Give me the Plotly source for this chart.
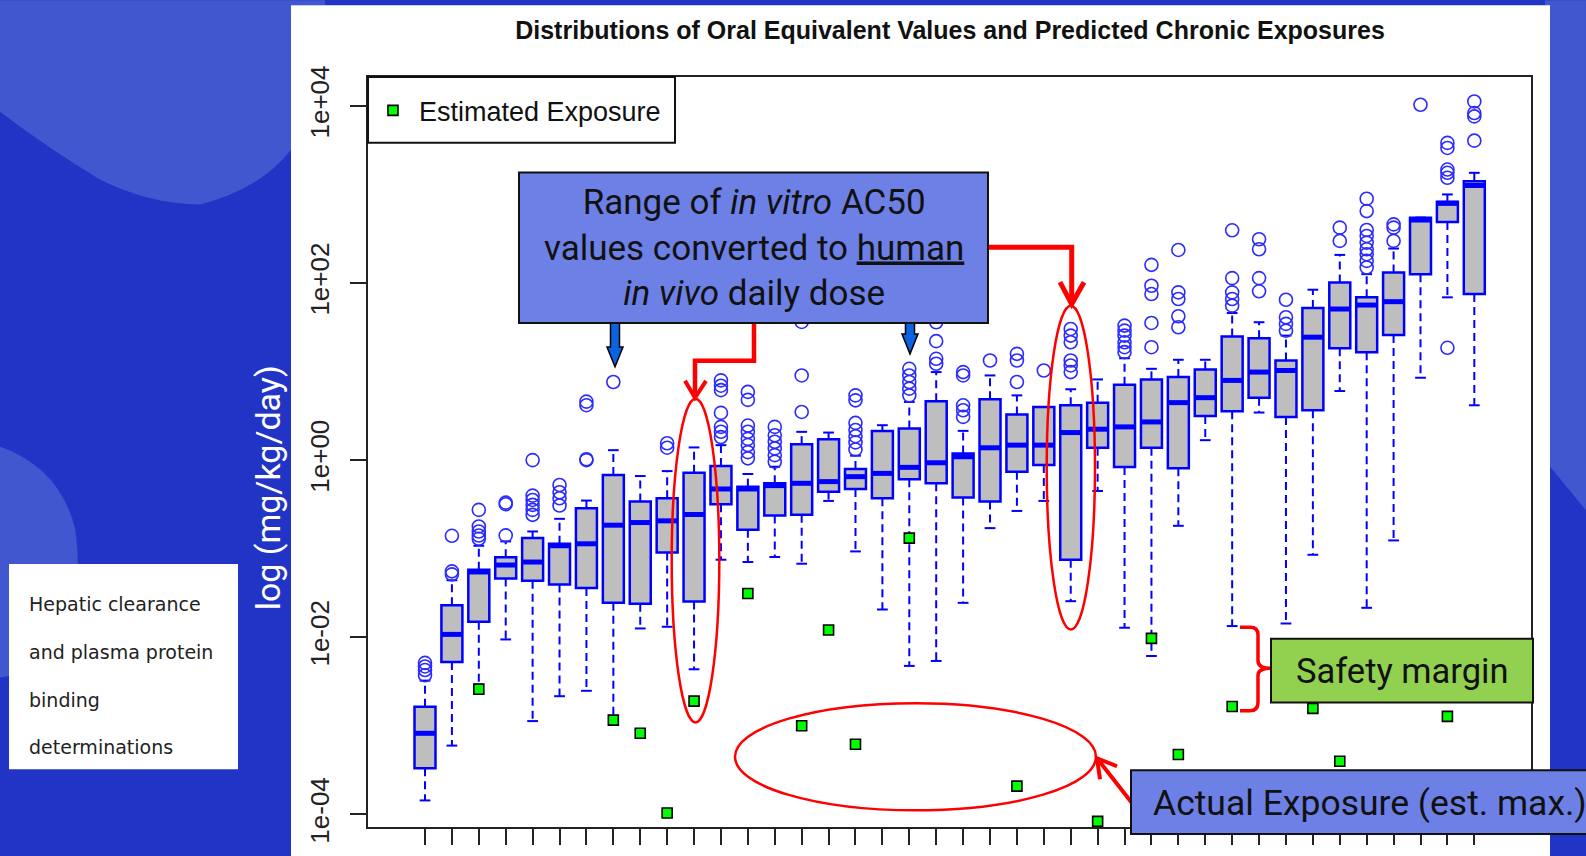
import plotly.graph_objects as go

# ---------------- data (log10 of mg/kg/day) ----------------
positions = list(range(1, 41))
lo_log = [-3.843, -3.224, -2.531, -2.025, -2.947, -2.666, -2.605, -2.905, -1.901, -1.882,
          -2.362, -1.125, -1.151, -1.094, -1.170, -0.461, -1.031, -1.687, -2.324, -2.268,
          -1.612, -0.768, -0.574, -0.461, -1.593, -0.349, -1.893, -2.212, -0.742, 0.225,
          -1.874, 0.537, -1.845, -1.069, 0.780, -1.668, -0.907, 0.930, 1.838, 0.619]
q1_log = [-3.479, -2.279, -1.826, -1.338, -1.361, -1.406, -1.443, -1.612, -1.623, -1.042,
          -1.597, -0.498, -0.787, -0.626, -0.618, -0.356, -0.326, -0.431, -0.217, -0.262,
          -0.423, -0.468, -0.131, -0.056, -1.125, 0.139, -0.078, 0.139, -0.093, 0.499,
          0.551, 0.705, 0.488, 0.562, 1.264, 1.219, 1.414, 2.100, 2.688, 1.875]
med_log = [-3.085, -1.968, -1.263, -1.185, -1.151, -0.967, -0.945, -0.735, -0.705, -0.686,
           -0.614, -0.326, -0.326, -0.288, -0.262, -0.243, -0.187, -0.150, -0.082, -0.030,
           0.038, 0.139, 0.169, 0.169, 0.311, 0.349, 0.375, 0.431, 0.649, 0.705,
           0.900, 0.994, 1.012, 1.388, 1.706, 1.751, 1.789, 2.711, 2.899, 3.101]
q3_log = [-2.785, -1.638, -1.237, -1.098, -0.881, -0.945, -0.543, -0.169, -0.468, -0.431,
          -0.142, -0.067, -0.300, -0.262, 0.180, 0.236, -0.101, 0.330, 0.357, 0.664,
          0.075, 0.686, 0.514, 0.600, 0.619, 0.649, 0.851, 0.911, 0.938, 1.024,
          1.395, 1.377, 1.125, 1.718, 2.006, 1.838, 2.119, 2.738, 2.918, 3.150]
hi_log = [-2.490, -1.357, -0.967, -0.918, -0.806, -0.663, -0.457, 0.112, -0.180, -0.124,
          0.143, 0.169, -0.157, -0.075, 0.319, 0.311, 0.050, 0.394, 0.657, 0.994,
          0.330, 0.956, 0.731, 0.600, 0.800, 0.911, 1.150, 1.031, 1.133, 1.133,
          1.661, 1.557, 1.406, 1.924, 2.317, 2.100, 2.389, 2.738, 3.000, 3.244]
outliers_log = [
    [-2.29, -2.33, -2.37, -2.43],
    [-1.256, -1.29, -0.855],
    [-0.888, -0.851, -0.806, -0.749, -0.562],
    [-0.85, -0.498, -0.48],
    [-0.618, -0.562, -0.506, -0.45, -0.401, 0.0],
    [-0.513, -0.431, -0.363, -0.281],
    [0.0, 0.01, 0.62, 0.66],
    [0.882],
    [],
    [0.14, 0.19],
    [],
    [0.26, 0.32, 0.375, 0.533, 0.79, 0.84, 0.9],
    [0.02, 0.09, 0.17, 0.24, 0.32, 0.39, 0.68, 0.77],
    [-0.018, 0.056, 0.132, 0.207, 0.281, 0.375],
    [0.544, 0.956, 1.56],
    [],
    [0.12, 0.2, 0.27, 0.34, 0.42, 0.675, 0.731],
    [],
    [0.731, 0.807, 0.882, 0.956, 1.031],
    [1.088, 1.144, 1.343, 1.557],
    [0.488, 0.563, 0.619, 0.956, 0.994],
    [1.125],
    [0.882, 1.125, 1.2],
    [1.012],
    [0.994, 1.069, 1.125, 1.331, 1.406, 1.481],
    [],
    [1.219, 1.275, 1.331, 1.406, 1.462, 1.519],
    [1.275, 1.549, 1.875, 1.969, 2.205],
    [1.5, 1.624, 1.819, 1.894, 2.373],
    [],
    [1.744, 1.819, 1.894, 2.055, 2.595],
    [1.906, 2.055, 2.381, 2.494],
    [1.462, 1.538, 1.613, 1.811],
    [],
    [2.475, 2.625],
    [2.175, 2.25, 2.325, 2.381, 2.456, 2.531, 2.599, 2.812, 2.952],
    [2.475, 2.625, 2.662],
    [4.013],
    [1.268, 3.188, 3.244, 3.281, 3.525, 3.582],
    [3.607, 3.881, 3.919, 4.05],
]
exposure_pos = [3, 8, 9, 10, 11, 13, 15, 16, 17, 19, 23, 26, 28, 29, 31, 34, 35, 39]
exposure_log = [-2.587, -2.936, -3.085, -3.985, -2.722, -1.507, -3.0, -1.919, -3.209, -0.881,
                -3.682, -4.079, -2.013, -3.325, -2.782, -2.804, -3.4, -2.894]
ytick_vals = [1e-4, 1e-2, 1, 1e2, 1e4]
ytick_text = ["1e-04", "1e-02", "1e+00", "1e+02", "1e+04"]

# ---------------- geometry helpers (pixel -> paper) ----------------
W, H = 1586, 856
L, R, T, B = 368, 1531, 77, 830


def X(px):
    return (px - L) / (R - L)


def Y(py):
    return (B - py) / (B - T)


def path(cmds):
    out = []
    for c in cmds:
        op = c[0]
        nums = c[1:]
        pts = []
        for k in range(0, len(nums), 2):
            pts.append(f"{X(nums[k]):.5f},{Y(nums[k+1]):.5f}")
        out.append(op + " " + " ".join(pts))
    return " ".join(out)


def p10(v):
    return 10 ** v


BLUE = "#0000FF"
DARK_BG = "#2234C5"
LIGHT_BG = "#4157CF"
CALLOUT = "#6D80E6"

fig = go.Figure()

# boxes
fig.add_trace(go.Box(
    x=positions,
    q1=[p10(v) for v in q1_log], median=[p10(v) for v in med_log], q3=[p10(v) for v in q3_log],
    lowerfence=[p10(v) for v in q1_log], upperfence=[p10(v) for v in q3_log],
    width=0.78, fillcolor="#BEBEBE", line=dict(color=BLUE, width=2.5),
    boxpoints=False, showlegend=False, hoverinfo="skip"))

# dashed whiskers, caps, thick medians
wx, wy = [], []
cx, cy = [], []
mx, my = [], []
for i, lo, q1, med, q3, hi in zip(positions, lo_log, q1_log, med_log, q3_log, hi_log):
    if lo < q1:
        wx += [i, i, None]
        wy += [p10(q1), p10(lo), None]
    if hi > q3:
        wx += [i, i, None]
        wy += [p10(q3), p10(hi), None]
    cx += [i - 0.2, i + 0.2, None, i - 0.2, i + 0.2, None]
    cy += [p10(lo), p10(lo), None, p10(hi), p10(hi), None]
    mx += [i - 0.39, i + 0.39, None]
    my += [p10(med), p10(med), None]

fig.add_trace(go.Scatter(x=wx, y=wy, mode="lines", line=dict(color=BLUE, width=2, dash="8px,5px"),
                         showlegend=False, hoverinfo="skip"))
fig.add_trace(go.Scatter(x=cx, y=cy, mode="lines", line=dict(color=BLUE, width=2),
                         showlegend=False, hoverinfo="skip"))
fig.add_trace(go.Scatter(x=mx, y=my, mode="lines", line=dict(color=BLUE, width=5),
                         showlegend=False, hoverinfo="skip"))

ox, oy = [], []
for i, outs in zip(positions, outliers_log):
    for v in outs:
        ox.append(i)
        oy.append(p10(v))
fig.add_trace(go.Scatter(x=ox, y=oy, mode="markers",
                         marker=dict(symbol="circle-open", size=13, color="#2B2BFF", line=dict(width=1.6)),
                         showlegend=False, hoverinfo="skip"))

fig.add_trace(go.Scatter(x=exposure_pos, y=[p10(v) for v in exposure_log], mode="markers",
                         name="Estimated Exposure",
                         marker=dict(symbol="square", size=10, color="#00FF00",
                                     line=dict(color="black", width=1.6))))

# ---------------- shapes ----------------
shapes = []
# background blobs
shapes.append(dict(type="path", xref="paper", yref="paper", layer="below", line=dict(width=0),
                   fillcolor=LIGHT_BG,
                   path=path([("M", 0, 0), ("L", 325, 0), ("L", 325, 5), ("L", 291, 5), ("L", 291, 150),
                              ("Q", 260, 190, 200, 205), ("Q", 150, 205, 100, 180),
                              ("Q", 50, 150, 0, 112), ("Z",)])))
shapes.append(dict(type="path", xref="paper", yref="paper", layer="below", line=dict(width=0),
                   fillcolor=LIGHT_BG,
                   path=path([("M", 0, 448), ("Q", 60, 470, 75, 530), ("Q", 85, 600, 60, 645),
                              ("Q", 35, 675, 0, 680), ("Z",)])))
shapes.append(dict(type="path", xref="paper", yref="paper", layer="below", line=dict(width=0),
                   fillcolor=LIGHT_BG,
                   path=path([("M", 1545, 0), ("L", 1586, 0), ("L", 1586, 512), ("L", 1545, 462), ("Z",)])))
# white panel
shapes.append(dict(type="rect", xref="paper", yref="paper", layer="below", line=dict(width=0),
                   fillcolor="white", x0=X(291), x1=X(1550), y0=Y(870), y1=Y(5)))
# left text box
shapes.append(dict(type="rect", xref="paper", yref="paper", layer="above", line=dict(width=0),
                   fillcolor="white", x0=X(9), x1=X(238), y0=Y(772), y1=Y(566)))
# legend frame
shapes.append(dict(type="rect", xref="paper", yref="paper", layer="above",
                   line=dict(color="#111", width=2), fillcolor="white",
                   x0=X(368), x1=X(675), y0=Y(143), y1=Y(77)))

# blue arrows
for ax, tip, hs in [(615, 368, 348), (910, 355, 335)]:
    shapes.append(dict(type="path", xref="paper", yref="paper", layer="above",
                       line=dict(color="black", width=1.5), fillcolor="#0A64E0",
                       path=path([("M", ax - 4.5, 322), ("L", ax - 4.5, hs), ("L", ax - 8, hs),
                                  ("L", ax, tip), ("L", ax + 8, hs), ("L", ax + 4.5, hs),
                                  ("L", ax + 4.5, 322), ("Z",)])))
RED = "#FF0000"
# red connector 1
shapes.append(dict(type="path", xref="paper", yref="paper", layer="above", line=dict(color=RED, width=4.5),
                   path=path([("M", 754, 322), ("L", 754, 362), ("L", 695, 362), ("L", 695, 398)])))
shapes.append(dict(type="path", xref="paper", yref="paper", layer="above", line=dict(color=RED, width=4),
                   path=path([("M", 685, 382), ("L", 695, 399), ("L", 706, 382)])))
# red connector 2
shapes.append(dict(type="path", xref="paper", yref="paper", layer="above", line=dict(color=RED, width=5),
                   path=path([("M", 985, 248), ("L", 1071.7, 248), ("L", 1071.7, 304)])))
shapes.append(dict(type="path", xref="paper", yref="paper", layer="above", line=dict(color=RED, width=5),
                   path=path([("M", 1060, 283), ("L", 1071.7, 305), ("L", 1084, 283)])))
# ellipses
for x0, x1, y0, y1 in [(671.7, 719.3, 400, 725), (1046.7, 1095, 306.7, 631.7), (735, 1096, 705.7, 813.3)]:
    shapes.append(dict(type="circle", xref="paper", yref="paper", layer="above",
                       line=dict(color=RED, width=2.5), x0=X(x0), x1=X(x1), y0=Y(y1), y1=Y(y0)))
# red arrow to lower ellipse
shapes.append(dict(type="path", xref="paper", yref="paper", layer="above", line=dict(color=RED, width=4),
                   path=path([("M", 1132, 806), ("L", 1097, 761)])))
shapes.append(dict(type="path", xref="paper", yref="paper", layer="above", line=dict(color=RED, width=4),
                   path=path([("M", 1117, 769), ("L", 1097, 761), ("L", 1100, 782)])))
# bracket
shapes.append(dict(type="path", xref="paper", yref="paper", layer="above", line=dict(color=RED, width=3.5),
                   path=path([("M", 1240, 629.5), ("L", 1250, 629.5), ("Q", 1258, 629.5, 1258, 637),
                              ("L", 1258, 663), ("Q", 1258, 670.7, 1271, 670.7),
                              ("Q", 1258, 670.7, 1258, 678), ("L", 1258, 705),
                              ("Q", 1258, 713.3, 1250, 713.3), ("L", 1240, 713.3)])))
# callout boxes
shapes.append(dict(type="rect", xref="paper", yref="paper", layer="above",
                   line=dict(color="#111", width=2), fillcolor=CALLOUT,
                   x0=X(519), x1=X(988), y0=Y(324), y1=Y(173)))
shapes.append(dict(type="rect", xref="paper", yref="paper", layer="above",
                   line=dict(color="#111", width=2), fillcolor="#92D050",
                   x0=X(1271), x1=X(1533), y0=Y(705), y1=Y(641)))
shapes.append(dict(type="rect", xref="paper", yref="paper", layer="above",
                   line=dict(color="#111", width=2), fillcolor=CALLOUT,
                   x0=X(1131), x1=X(1600), y0=Y(837), y1=Y(773)))

# ---------------- annotations ----------------
CALL_FONT = dict(family="Roboto, Noto Sans, sans-serif", size=35, color="#111")
ann = [
    dict(text="Range of <i>in vitro</i> AC50<br>values converted to <u>human</u><br><i>in vivo</i> daily dose",
         x=X(753.5), y=Y(249), xanchor="center", yanchor="middle", align="center", font=CALL_FONT),
    dict(text="Safety margin", x=X(1402), y=Y(673), xanchor="center", yanchor="middle",
         font=dict(CALL_FONT, size=34.5)),
    dict(text="Actual Exposure (est. max.)", x=X(1151), y=Y(806), xanchor="left", yanchor="middle",
         font=dict(CALL_FONT, size=35.5)),
    dict(text="log (mg/kg/day)", x=X(268), y=Y(490), xanchor="center", yanchor="middle", textangle=-90,
         font=dict(family="Roboto, sans-serif", size=34, color="white")),
]
for txt, yy in [("Hepatic clearance", 606), ("and plasma protein", 654), ("binding", 702),
                ("determinations", 750)]:
    ann.append(dict(text=txt, x=X(27), y=Y(yy), xanchor="left", yanchor="middle",
                    font=dict(family="DejaVu Sans", size=19, color="#222")))
for a in ann:
    a.update(xref="paper", yref="paper", showarrow=False)

fig.update_layout(
    width=W, height=H,
    margin=dict(l=L, r=W - R, t=T, b=H - B, pad=0),
    paper_bgcolor=DARK_BG, plot_bgcolor="white",
    title=dict(text="<b>Distributions of Oral Equivalent Values and Predicted Chronic Exposures</b>",
               x=X(950), xref="paper", xanchor="center", y=1 - 30 / H, yref="container", yanchor="middle",
               font=dict(family="Liberation Sans, Arial, sans-serif", size=25, color="#111")),
    xaxis=dict(range=[-1.1186, 42.107], tickvals=positions, showticklabels=False, ticks="outside",
               ticklen=16, tickwidth=2, tickcolor="#222", showline=True, linecolor="#222", linewidth=2,
               mirror=True, showgrid=False, zeroline=False),
    yaxis=dict(type="log", range=[-4.143, 4.326], tickvals=ytick_vals, ticktext=ytick_text,
               tickangle=-90, ticks="outside", ticklen=16, tickwidth=2, tickcolor="#222",
               showline=True, linecolor="#222", linewidth=2, mirror=True, showgrid=False, zeroline=False,
               tickfont=dict(family="Liberation Sans, Arial, sans-serif", size=26, color="#222"),
               ticklabelstandoff=11),
    legend=dict(x=X(367), y=Y(111), xanchor="left", yanchor="middle", bgcolor="rgba(0,0,0,0)",
                borderwidth=0, itemwidth=42,
                font=dict(family="Liberation Sans, Arial, sans-serif", size=27, color="#111")),
    showlegend=True,
    shapes=shapes,
    annotations=ann,
)

fig.write_html("out.html")
